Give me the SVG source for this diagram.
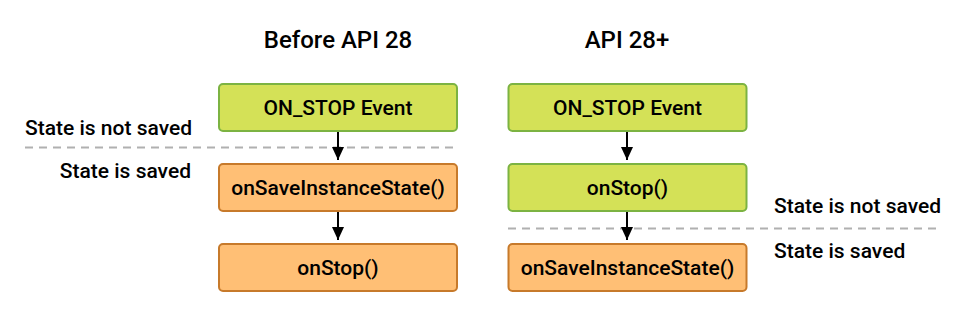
<svg xmlns="http://www.w3.org/2000/svg" width="966" height="318" viewBox="0 0 966 318">
<style>
text{font-family:Roboto,"Liberation Sans",sans-serif;fill:#000}
.t{font-size:24px;font-weight:500;text-anchor:middle}
.n{font-size:21px;font-weight:500;text-anchor:middle}
.l{font-size:21px;font-weight:500}
.g{fill:#d4e157;stroke:#7cb342;stroke-width:2}
.o{fill:#ffbf75;stroke:#c77a2b;stroke-width:2}
.d{stroke:#b0b0b0;stroke-width:2;stroke-dasharray:8 6;fill:none}
.a{stroke:#000;stroke-width:2;fill:none}
</style>
<defs><marker id="ah" markerWidth="14" markerHeight="12" refX="13" refY="6" orient="auto" markerUnits="userSpaceOnUse"><path d="M0,0L13,6L0,12z" fill="#000"/></marker></defs>
<rect width="966" height="318" fill="#fff"/>
<text class="t" x="338" y="48">Before API 28</text>
<text class="t" x="627" y="48">API 28+</text>
<g id="dividers">
<line class="d" x1="25" y1="147.5" x2="457" y2="147.5"/>
<line class="d" x1="508" y1="228.5" x2="942" y2="228.5"/>
</g>
<g id="labels">
<text class="l" x="25" y="135">State is not saved</text>
<text class="l" x="191" y="178" text-anchor="end">State is saved</text>
<text class="l" x="774" y="213">State is not saved</text>
<text class="l" x="774" y="258">State is saved</text>
</g>
<g id="connectors">
<line class="a" x1="338" y1="132" x2="338" y2="160" marker-end="url(#ah)"/>
<line class="a" x1="338" y1="212" x2="338" y2="240" marker-end="url(#ah)"/>
<line class="a" x1="627" y1="132" x2="627" y2="160" marker-end="url(#ah)"/>
<line class="a" x1="627" y1="212" x2="627" y2="240" marker-end="url(#ah)"/>
</g>
<g id="l1"><rect class="g" x="219" y="84" width="238" height="47" rx="4"/><text class="n" x="338" y="115">ON_STOP Event</text></g>
<g id="l2"><rect class="o" x="219" y="164" width="238" height="47" rx="4"/><text class="n" x="338" y="195">onSaveInstanceState()</text></g>
<g id="l3"><rect class="o" x="219" y="244" width="238" height="47" rx="4"/><text class="n" x="338" y="275">onStop()</text></g>
<g id="r1"><rect class="g" x="508.5" y="84" width="238" height="47" rx="4"/><text class="n" x="627.5" y="115">ON_STOP Event</text></g>
<g id="r2"><rect class="g" x="508.5" y="164" width="238" height="47" rx="4"/><text class="n" x="627.5" y="195">onStop()</text></g>
<g id="r3"><rect class="o" x="508.5" y="244" width="238" height="47" rx="4"/><text class="n" x="627.5" y="275">onSaveInstanceState()</text></g>
</svg>
